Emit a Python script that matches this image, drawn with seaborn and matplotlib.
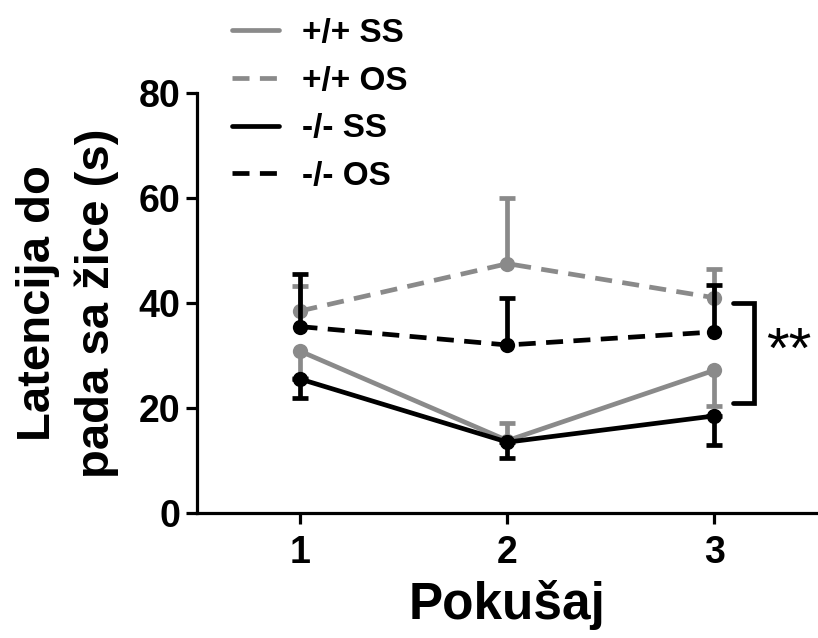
import matplotlib
matplotlib.use("Agg")
import matplotlib.pyplot as plt
from matplotlib.lines import Line2D
import numpy as np
import pandas as pd
import seaborn as sns

# ---- data ----
trials = [1, 2, 3]
x_tick_labels = ["1", "2", "3"]
y_ticks = [0, 20, 40, 60, 80]
series_names = ["+/+ SS", "+/+ OS", "-/- SS", "-/- OS"]

wt_ss = [30.8, 13.8, 27.2]
wt_ss_lo = [5.0, 0.0, 6.9]
wt_ss_hi = [0.0, 3.4, 0.0]

wt_os = [38.5, 47.5, 41.0]
wt_os_lo = [0.0, 0.0, 0.0]
wt_os_hi = [4.8, 12.5, 5.5]

ko_ss = [25.5, 13.5, 18.5]
ko_ss_lo = [3.5, 3.0, 5.5]
ko_ss_hi = [0.0, 0.0, 0.0]

ko_os = [35.5, 32.0, 34.5]
ko_os_lo = [0.0, 0.0, 0.0]
ko_os_hi = [10.0, 9.0, 9.0]

bracket_span = [40.0, 21.0]
significance = "**"

# ---- style ----
sns.set_style("ticks")
plt.rcParams['font.family'] = ['Liberation Sans', 'DejaVu Sans']
plt.rcParams['font.weight'] = 'bold'
plt.rcParams['text.color'] = 'black'
plt.rcParams['axes.labelcolor'] = 'black'
plt.rcParams['xtick.color'] = 'black'
plt.rcParams['ytick.color'] = 'black'

gray = '#8a8a8a'
black = '#000000'
dash = (0, (3.6, 2.2))
lw = 3.4

fig = plt.figure(figsize=(8.18, 6.38), dpi=100)
ax = fig.add_axes([0.2408, 0.1959, 0.7592, 0.6583])

specs = [
    (series_names[0], wt_ss, wt_ss_lo, wt_ss_hi, gray, '-'),
    (series_names[1], wt_os, wt_os_lo, wt_os_hi, gray, dash),
    (series_names[2], ko_ss, ko_ss_lo, ko_ss_hi, black, '-'),
    (series_names[3], ko_os, ko_os_lo, ko_os_hi, black, dash),
]

handles = []
for i, (name, y, lo, hi, col, ls) in enumerate(specs):
    z = 3 + 2 * i
    eb = ax.errorbar(trials, y, yerr=[lo, hi], fmt='none', ecolor=col,
                     elinewidth=lw, capsize=6, capthick=lw, zorder=z)
    # show caps only on the side that has an error bar
    for cap in eb[1]:
        cy = np.asarray(cap.get_ydata(), dtype=float)
        errs = lo if np.all(cy <= np.asarray(y) + 1e-9) else hi
        idx = [k for k, e in enumerate(errs) if e > 0]
        cap.set_markevery(idx)
    df = pd.DataFrame({'Pokušaj': trials, 'val': y})
    sns.lineplot(data=df, x='Pokušaj', y='val', ax=ax, color=col,
                 linewidth=lw, linestyle=ls, marker='o', markersize=11,
                 markeredgewidth=0, zorder=z + 1, legend=False)
    handles.append(Line2D([], [], color=col, lw=lw, linestyle=ls))

ax.set_xlim(0.5, 3.5)
ax.set_ylim(0, 80)
ax.set_xticks(trials)
ax.set_xticklabels(x_tick_labels)
ax.set_yticks(y_ticks)
for s in ['top', 'right']:
    ax.spines[s].set_visible(False)
for s in ['left', 'bottom']:
    ax.spines[s].set_linewidth(2.3)
    ax.spines[s].set_color('black')
ax.tick_params(axis='both', length=8, width=2.3, labelsize=27,
               color='black', labelcolor='black')
ax.tick_params(axis='y', pad=4)
ax.tick_params(axis='x', pad=8)

ax.set_xlabel("Pokušaj", fontsize=37, fontweight='bold', labelpad=6)
ax.set_ylabel("Latencija do\npada sa žice (s)", fontsize=34,
              fontweight='bold', linespacing=1.42)
ax.yaxis.set_label_coords(-0.125, 0.5)

# significance bracket
bx, bx_in = 3.19, 3.09
ax.plot([bx_in, bx, bx, bx_in], [bracket_span[0], bracket_span[0],
        bracket_span[1], bracket_span[1]], color='black', lw=lw,
        solid_joinstyle='miter', clip_on=False, zorder=20)
ax.text(3.36, sum(bracket_span) / 2, significance, fontsize=42,
        fontweight='normal', ha='center', va='center')

fig.legend(handles, series_names, loc='upper left',
           bbox_to_anchor=(0.2836, 0.972), frameon=False, fontsize=24,
           handlelength=1.4, handletextpad=0.7, labelspacing=0.5,
           borderpad=0, borderaxespad=0)

fig.savefig("out.png", dpi=100)
